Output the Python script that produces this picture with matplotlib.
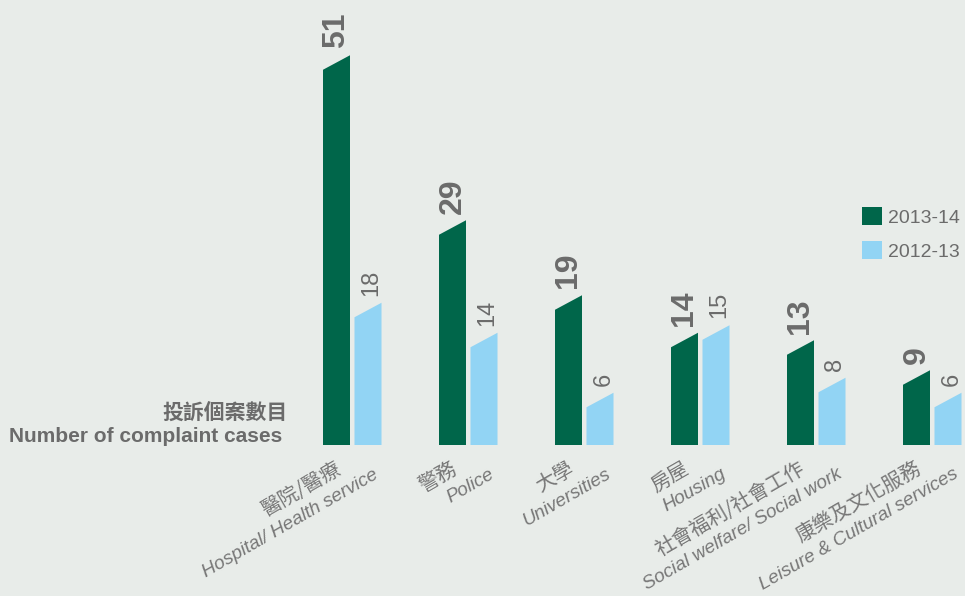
import matplotlib
matplotlib.use("Agg")
import matplotlib.pyplot as plt
from matplotlib.patches import Patch
import matplotlib.transforms as mtransforms

cats_zh = ["醫院/醫療", "警務", "大學", "房屋", "社會福利/社會工作", "康樂及文化服務"]
cats_en = ["Hospital/ Health service", "Police", "Universities", "Housing",
           "Social welfare/ Social work", "Leisure & Cultural services"]
v2014 = [51, 29, 19, 14, 13, 9]
v2013 = [18, 14, 6, 15, 8, 6]
series_labels = ["2013-14", "2012-13"]

BG = "#e8ece9"
DARK = "#00664a"
LIGHT = "#92d4f4"
GRAY = "#6b6b6b"
LGRAY = "#777777"

W, H = 965, 596
fig = plt.figure(figsize=(W / 100, H / 100), dpi=100, facecolor=BG)
ax = fig.add_axes([0, 0, 1, 1])
ax.set_facecolor(BG)
ax.axis("off")

# pixel mapping: group i centre at 352.5 + 116*i px ; baseline at y=445px ; 7.5 px per unit
pitch = 116.0
ppu = 7.5
ax.set_xlim(-352.5 / pitch, (W - 352.5) / pitch)
ax.set_ylim(-(H - 445) / ppu, 445 / ppu)

bw = 27 / pitch
off_d = -16 / pitch
off_l = 15.5 / pitch
slant = 14.5 / ppu

for i in range(len(cats_en)):
    for off, v, col in ((off_d, v2014[i], DARK), (off_l, v2013[i], LIGHT)):
        x0 = i + off - bw / 2
        x1 = x0 + bw
        ax.fill([x0, x1, x1, x0], [0, 0, v + slant / 2, v - slant / 2],
                color=col, lw=0)
    ax.text(i + off_d, v2014[i] + slant / 2 + 0.9, str(v2014[i]), rotation=90,
            ha="center", va="bottom", fontsize=23, fontweight="bold",
            family=["Liberation Sans"], color=GRAY)
    ax.text(i + off_l + 0.03, v2013[i] + slant / 2 + 0.9, str(v2013[i]), rotation=90,
            ha="center", va="bottom", fontsize=17, fontweight="normal",
            family=["Liberation Sans", "DejaVu Sans"], color=GRAY)
    # category labels
    ex = i + 27 / pitch
    ey = (445 - 477) / ppu
    ax.text(ex, ey, cats_en[i], rotation=30, rotation_mode="anchor",
            ha="right", va="baseline", fontsize=13.7, style="italic",
            fontweight="normal", family=["Liberation Sans", "DejaVu Sans"], color=LGRAY)
    tr = ax.transData + mtransforms.ScaledTranslation(-37 / 100, 5 / 100, fig.dpi_scale_trans)
    ax.text(ex, ey, cats_zh[i], rotation=30, rotation_mode="anchor",
            ha="right", va="baseline", fontsize=14.5, fontweight="normal",
            family=["Noto Sans CJK TC", "DejaVu Sans"], color=LGRAY, transform=tr)

# axis caption
fig.text(288 / W, 1 - 412 / H, "投訴個案數目", ha="right", va="center", fontsize=15,
         fontweight="bold", family=["Noto Sans CJK TC", "DejaVu Sans"], color=GRAY)
fig.text(282 / W, 1 - 437 / H, "Number of complaint cases", ha="right", va="center",
         fontsize=15, fontweight="bold", family=["Liberation Sans", "DejaVu Sans"],
         color=GRAY)

handles = [Patch(facecolor=DARK, edgecolor="none"), Patch(facecolor=LIGHT, edgecolor="none")]
leg = fig.legend(handles, series_labels, loc="upper left",
                 bbox_to_anchor=(862 / W, 1 - 207 / H), frameon=False,
                 handlelength=1.05, handleheight=1.05,
                 handletextpad=0.3, labelspacing=0.75, borderpad=0, borderaxespad=0,
                 prop={"family": ["Liberation Sans", "DejaVu Sans"], "size": 14})
for t in leg.get_texts():
    t.set_color(GRAY)

fig.savefig("out.png", dpi=100, facecolor=BG)
